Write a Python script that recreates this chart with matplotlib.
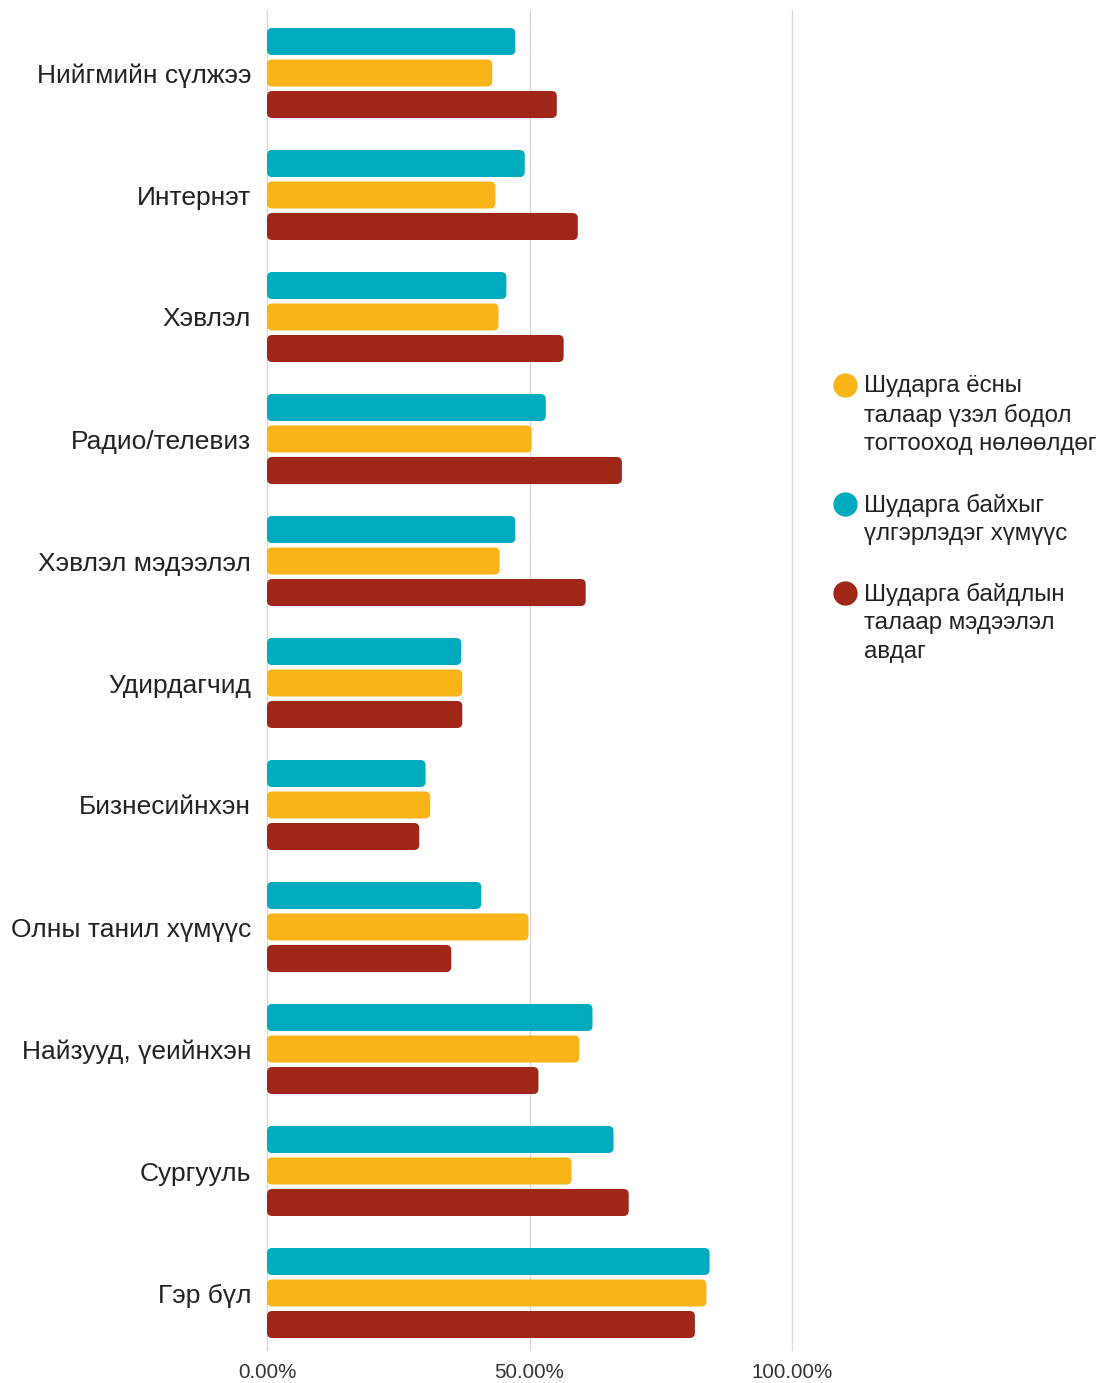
import matplotlib.pyplot as plt
from matplotlib.patches import FancyBboxPatch
from matplotlib.lines import Line2D

plt.rcParams["font.family"] = ["Liberation Sans", "DejaVu Sans"]

categories = [
    "Нийгмийн сүлжээ",
    "Интернэт",
    "Хэвлэл",
    "Радио/телевиз",
    "Хэвлэл мэдээлэл",
    "Удирдагчид",
    "Бизнесийнхэн",
    "Олны танил хүмүүс",
    "Найзууд, үеийнхэн",
    "Сургууль",
    "Гэр бүл",
]

# percentages
teal_vals = [47.3, 49.1, 45.6, 53.1, 47.3, 37.0, 30.2, 40.8, 62.0, 66.0, 84.3]
yellow_vals = [42.9, 43.5, 44.1, 50.4, 44.3, 37.2, 31.1, 49.8, 59.5, 58.0, 83.7]
red_vals = [55.2, 59.2, 56.5, 67.6, 60.7, 37.2, 29.0, 35.1, 51.7, 68.9, 81.5]

series_labels = [
    "Шударга ёсны\nталаар үзэл бодол\nтогтооход нөлөөлдөг",
    "Шударга байхыг\nүлгэрлэдэг хүмүүс",
    "Шударга байдлын\nталаар мэдээлэл\nавдаг",
]
x_ticks = [0, 50, 100]
x_tick_labels = ["0.00%", "50.00%", "100.00%"]

teal = "#00ABBD"
yellow = "#F9B418"
red = "#A02617"

W, H = 1109, 1383
fig = plt.figure(figsize=(W / 100, H / 100), dpi=100)
ax = fig.add_axes([267 / W, 1 - 1350 / H, 525 / W, 1340 / H])

bar_h = 27 / 122
step = 31.5 / 122
r_x = 1.0
aspect = (5 / 122) / r_x

for i in range(len(categories)):
    for off, val, col in [(-step, teal_vals[i], teal), (0, yellow_vals[i], yellow), (step, red_vals[i], red)]:
        y = i + off - bar_h / 2
        p = FancyBboxPatch(
            (0, y), val, bar_h,
            boxstyle=f"round,pad=0,rounding_size={r_x}",
            mutation_aspect=aspect,
            facecolor=col, edgecolor="none", zorder=3,
        )
        ax.add_patch(p)

ax.set_xlim(0, 100)
ax.set_ylim(10 + 57 / 122, -63 / 122)
ax.set_yticks(range(len(categories)))
ax.set_yticklabels(categories, fontsize=19, color="#222222")
ax.set_xticks(x_ticks)
ax.set_xticklabels(x_tick_labels, fontsize=14.8, color="#333333")
ax.tick_params(length=0)
ax.tick_params(axis="y", pad=11.5)
ax.tick_params(axis="x", pad=9)
ax.grid(True, axis="x", color="#d9d9d9", linewidth=1, zorder=0)
for gl in ax.get_xgridlines():
    gl.set_clip_on(False)
for s in ax.spines.values():
    s.set_visible(False)

# legend drawn by hand
leg_y = [385, 504, 593]
leg_cols = [yellow, teal, red]
for y, col, lab in zip(leg_y, leg_cols, series_labels):
    fig.add_artist(Line2D([845 / W], [1 - y / H], marker="o", markersize=16.5,
                          color=col, linestyle="none", transform=fig.transFigure))
    fig.text(864 / W, 1 - (y - 10) / H, lab, fontsize=17.3, color="#222222",
             va="top", ha="left", linespacing=1.37)

fig.savefig("out.png", dpi=100)
